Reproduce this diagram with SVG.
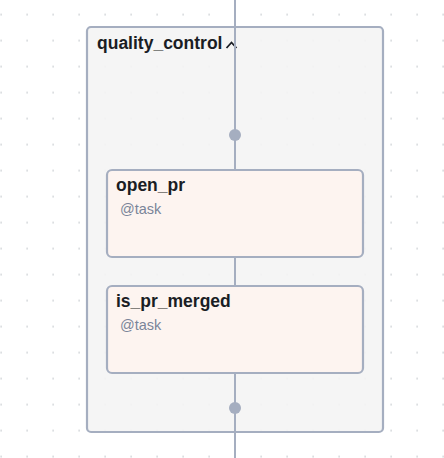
<svg xmlns="http://www.w3.org/2000/svg" width="444" height="458" viewBox="0 0 444 458">
<style>
.grp{fill:#f4f4f4;fill-opacity:0.9;stroke:#a5aec0;stroke-width:2.2}
.node{fill:#fdf4f0;stroke:#a5aec0;stroke-width:2.2}
.edge{stroke:#a5aec0;stroke-width:2;fill:none}
.dot{fill:#a5aec0}
.title{font-family:"Liberation Sans",Arial,sans-serif;font-weight:bold;font-size:17.5px;fill:#1a1d24}
.sub{font-family:"Liberation Sans",Arial,sans-serif;font-size:14.5px;fill:#7a8599}
</style>
<defs>
<pattern id="grid" x="0" y="1.5" width="26" height="26" patternUnits="userSpaceOnUse">
<rect x="0.5" y="12.5" width="1.2" height="1.2" fill="#acb0b8"/>
</pattern>
</defs>
<rect width="444" height="458" fill="#ffffff"/>
<rect width="444" height="458" fill="url(#grid)"/>
<g id="quality_control">
<rect class="grp" x="87" y="27" width="296" height="405" rx="4"/>
<text class="title" x="97" y="49">quality_control</text>
<polyline points="226.5,48 231.5,42.5 236.5,48" fill="none" stroke="#1a1d24" stroke-width="1.8"/>
</g>
<g id="connectors">
<line class="edge" x1="235" y1="0" x2="235" y2="170"/>
<line class="edge" x1="235" y1="257" x2="235" y2="286"/>
<line class="edge" x1="235" y1="373" x2="235" y2="458"/>
<circle class="dot" cx="235" cy="135" r="6"/>
<circle class="dot" cx="235" cy="408" r="6"/>
</g>
<g id="open_pr">
<rect class="node" x="107" y="170" width="256" height="87" rx="5"/>
<text class="title" x="116" y="191">open_pr</text>
<text class="sub" x="120" y="214">@task</text>
</g>
<g id="is_pr_merged">
<rect class="node" x="107" y="286" width="256" height="87" rx="5"/>
<text class="title" x="116" y="307">is_pr_merged</text>
<text class="sub" x="120" y="330">@task</text>
</g>
</svg>
